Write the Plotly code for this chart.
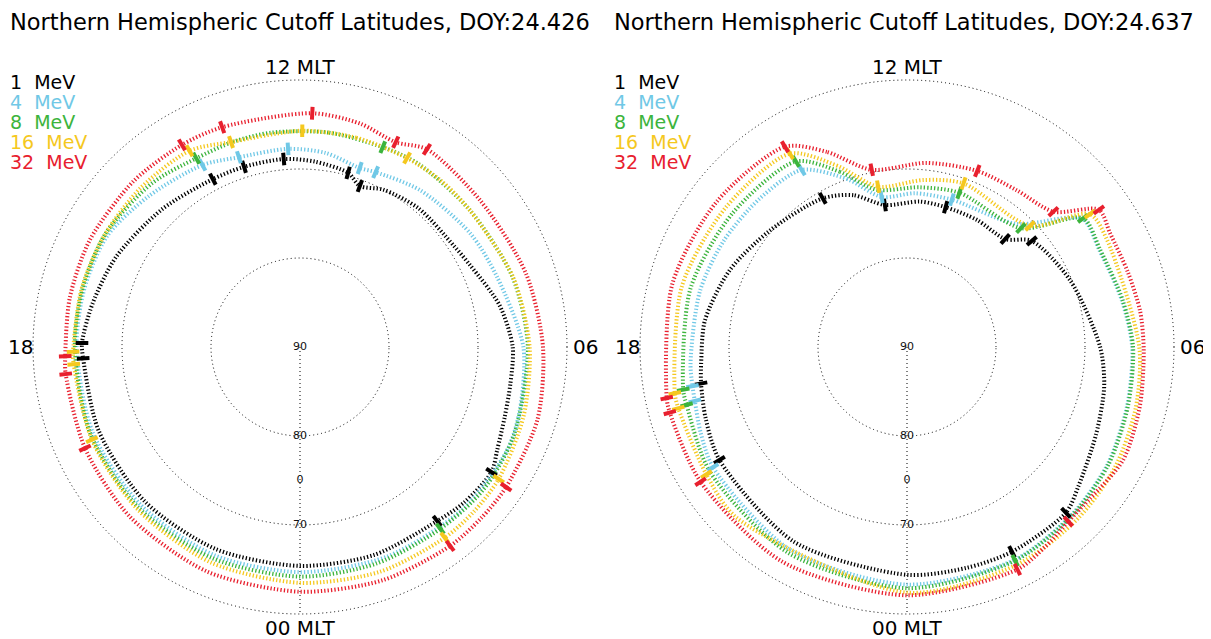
import plotly.graph_objects as go

W, H = 1211, 639

ENERGY_LABELS = ["1\u00a0\u00a0MeV", "4\u00a0\u00a0MeV", "8\u00a0\u00a0MeV", "16\u00a0\u00a0MeV", "32\u00a0\u00a0MeV"]
COLORS = ["#000000", "#70c8e6", "#3cb43c", "#f5c81e", "#e8202e"]
TITLES = ["Northern Hemispheric Cutoff Latitudes, DOY:24.426",
          "Northern Hemispheric Cutoff Latitudes, DOY:24.637"]
MLT_TICK_TEXT = ["12 MLT", "00 MLT", "18", "06"]
LAT_LABEL_VALUES = [90, 80, 75, 70]
LAT_LABEL_TEXT = ["90", "80", "0", "70"]
GRID_LATS = [80, 70, 60]

# ---------------- Left panel (DOY 24.426): curves (MLT, latitude) ----------------
L_BLACK_MLT = [10.97, 11.7, 12.33, 13.15, 13.83, 15.0, 16.25, 17.2, 17.93, 18.2, 19.5, 21.0, 22.5, 0.0, 1.3, 2.55, 3.1, 3.79, 4.16, 4.75, 5.33, 6.0, 6.79, 7.72, 8.21, 9.3, 10.14, 10.64]
L_BLACK_LAT = [69.7, 69.1, 68.8, 68.8, 68.75, 68.1, 67.0, 66.2, 65.5, 65.6, 65.5, 65.4, 65.4, 65.4, 65.2, 65.1, 64.6, 64.3, 65.0, 65.7, 66.0, 66.1, 67.1, 68.8, 69.3, 69.5, 70.0, 70.7]
L_BLUE_MLT = [10.44, 10.77, 11.5, 12.23, 13.19, 13.88, 15.0, 16.0, 17.0, 18.0, 19.5, 21.0, 22.5, 0.0, 1.5, 3.0, 4.23, 4.93, 6.0, 7.31, 8.25, 9.5]
L_BLUE_LAT = [68.6, 68.8, 68.0, 67.7, 67.6, 66.8, 66.0, 65.0, 64.9, 64.9, 64.8, 64.8, 64.7, 64.7, 64.5, 64.2, 64.0, 64.3, 64.9, 66.5, 67.0, 67.8]
L_GREEN_MLT = [10.5, 11.5, 12.5, 13.2, 13.92, 14.8, 16.0, 17.0, 18.0, 19.5, 21.0, 22.5, 0.0, 1.3, 2.51, 3.47, 4.5, 6.0, 7.2, 8.6, 9.8]
L_GREEN_LAT = [65.7, 65.7, 65.7, 65.75, 65.8, 65.2, 64.7, 64.7, 64.7, 64.5, 64.4, 64.3, 64.2, 64.2, 64.2, 63.9, 64.0, 64.4, 64.85, 65.5, 65.5]
L_YELLOW_MLT = [10.03, 11.0, 11.96, 13.24, 13.96, 15.0, 16.0, 17.0, 18.08, 18.29, 19.6, 21.0, 22.5, 0.0, 1.3, 2.48, 3.1, 3.76, 4.85, 6.0, 7.2, 8.59, 9.3]
L_YELLOW_LAT = [65.6, 65.65, 65.7, 65.7, 64.7, 64.7, 64.7, 64.6, 64.5, 64.5, 64.4, 64.2, 63.8, 63.5, 63.2, 63.1, 63.1, 63.2, 63.7, 64.2, 64.8, 65.5, 65.5]
L_RED_MLT = [9.82, 10.33, 11.0, 11.8, 13.3, 14.02, 15.0, 16.2, 17.2, 18.15, 18.44, 19.68, 21.0, 22.5, 0.0, 1.3, 2.47, 3.1, 3.72, 4.87, 6.0, 7.2, 8.6]
L_RED_LAT = [63.6, 64.6, 64.0, 63.7, 63.8, 63.7, 63.6, 63.5, 63.55, 63.6, 63.5, 63.3, 63.0, 62.7, 62.5, 62.2, 62.0, 62.0, 62.0, 62.1, 62.7, 63.3, 63.9]

# Left panel: highlighted points
L_BLACK_MK_MLT = [13.83, 13.15, 12.33, 10.97, 10.64, 17.93, 18.2, 3.79, 2.55]
L_BLACK_MK_LAT = [68.75, 68.8, 68.8, 69.7, 70.7, 65.5, 65.6, 64.3, 65.1]
L_BLUE_MK_MLT = [13.88, 13.19, 12.23, 10.77, 10.44]
L_BLUE_MK_LAT = [66.8, 67.6, 67.7, 68.8, 68.6]
L_GREEN_MK_MLT = [13.92, 10.5, 2.51]
L_GREEN_MK_LAT = [65.8, 65.7, 64.2]
L_YELLOW_MK_MLT = [13.96, 13.24, 11.96, 10.03, 3.76, 2.48, 19.6, 18.08, 18.29]
L_YELLOW_MK_LAT = [64.7, 65.7, 65.7, 65.6, 63.2, 63.1, 64.4, 64.5, 64.5]
L_RED_MK_MLT = [14.02, 13.3, 11.8, 10.33, 9.82, 3.72, 2.47, 19.68, 18.15, 18.44]
L_RED_MK_LAT = [63.7, 63.8, 63.7, 64.6, 63.6, 62.0, 62.0, 63.3, 63.6, 63.5]

# ---------------- Right panel (DOY 24.637) ----------------
R_BLACK_MLT = [12.59, 13.3, 13.97, 15.3, 16.43, 17.5, 18.3, 18.67, 19.3, 20.07, 22.0, 0.0, 1.0, 1.81, 2.92, 3.4, 4.35, 5.24, 6.0, 7.49, 8.69, 9.18, 10.08, 10.97, 11.66]
R_BLACK_LAT = [73.85, 71.9, 70.8, 69.8, 68.3, 67.1, 66.8, 66.5, 66.0, 65.4, 64.7, 64.4, 64.3, 64.15, 64.2, 65.2, 66.6, 67.4, 68.3, 70.2, 71.6, 73.6, 73.7, 73.7, 73.6]
R_BLUE_MLT = [12.64, 13.3, 14.05, 15.0, 16.0, 17.0, 18.3, 18.69, 18.95, 19.5, 20.12, 22.0, 0.0, 1.79, 3.0, 4.0, 5.0, 6.0, 6.82, 7.78, 8.41, 9.23, 10.87, 11.8]
R_BLUE_LAT = [72.9, 70.0, 66.85, 66.5, 66.2, 65.9, 65.6, 65.5, 65.4, 64.9, 64.35, 63.7, 63.3, 63.2, 63.6, 63.9, 64.4, 64.7, 65.3, 65.8, 65.6, 71.5, 72.7, 72.7]
R_GREEN_MLT = [12.73, 13.4, 14.06, 15.5, 17.0, 18.72, 18.98, 20.14, 22.0, 0.0, 1.79, 3.0, 4.0, 5.0, 6.0, 6.82, 7.78, 8.41, 9.08, 10.75, 11.7]
R_GREEN_LAT = [72.0, 68.9, 65.7, 65.3, 64.8, 64.4, 64.4, 63.8, 63.3, 62.9, 63.1, 63.5, 63.8, 64.3, 64.6, 65.2, 65.7, 65.5, 71.5, 71.7, 72.0]
R_YELLOW_MLT = [12.68, 13.4, 14.08, 15.5, 17.0, 18.75, 19.0, 20.16, 21.0, 0.0, 1.8, 3.0, 4.0, 5.0, 6.0, 7.88, 8.4, 8.97, 10.73, 11.63]
R_YELLOW_LAT = [71.7, 68.2, 64.6, 64.3, 63.8, 63.4, 63.4, 63.3, 62.9, 62.4, 62.6, 62.8, 63.0, 63.4, 63.9, 64.5, 64.6, 70.6, 70.55, 71.15]
R_RED_MLT = [12.75, 13.49, 14.09, 15.5, 17.0, 18.8, 19.03, 20.21, 22.0, 0.0, 1.76, 2.3, 2.85, 3.36, 4.16, 5.04, 5.95, 6.58, 7.25, 7.95, 8.37, 8.85, 9.67, 10.55, 11.6]
R_RED_LAT = [69.7, 66.3, 63.65, 63.1, 62.7, 62.4, 62.35, 62.3, 62.1, 62.1, 62.1, 62.7, 63.3, 63.3, 62.6, 63.0, 63.4, 63.5, 63.8, 63.85, 63.5, 67.6, 68.5, 68.7, 69.2]

R_BLACK_MK_MLT = [13.97, 12.59, 10.97, 9.18, 8.69, 18.67, 20.07, 2.92, 1.81]
R_BLACK_MK_LAT = [70.8, 73.85, 73.7, 73.6, 71.6, 66.5, 65.4, 64.2, 64.15]
R_BLUE_MK_MLT = [14.05, 12.64, 10.87, 18.69, 18.95, 20.12]
R_BLUE_MK_LAT = [66.85, 72.9, 72.7, 65.5, 65.4, 64.35]
R_GREEN_MK_MLT = [14.06, 10.75, 9.08, 8.41, 18.72, 18.98, 1.79]
R_GREEN_MK_LAT = [65.7, 71.7, 71.5, 65.5, 64.4, 64.4, 63.1]
R_YELLOW_MK_MLT = [14.08, 12.68, 10.73, 8.97, 8.4, 18.75, 19.0, 20.16]
R_YELLOW_MK_LAT = [64.6, 71.7, 70.55, 70.6, 64.6, 63.4, 63.4, 63.3]
R_RED_MK_MLT = [14.09, 12.75, 10.55, 8.85, 8.37, 18.8, 19.03, 20.21, 1.76, 2.85]
R_RED_MK_LAT = [63.65, 69.7, 68.7, 67.6, 63.5, 62.4, 62.35, 62.3, 62.1, 63.3]

PANELS = [
    dict(curves=[(L_BLACK_MLT, L_BLACK_LAT), (L_BLUE_MLT, L_BLUE_LAT), (L_GREEN_MLT, L_GREEN_LAT),
                 (L_YELLOW_MLT, L_YELLOW_LAT), (L_RED_MLT, L_RED_LAT)],
         marks=[(L_BLACK_MK_MLT, L_BLACK_MK_LAT), (L_BLUE_MK_MLT, L_BLUE_MK_LAT), (L_GREEN_MK_MLT, L_GREEN_MK_LAT),
                (L_YELLOW_MK_MLT, L_YELLOW_MK_LAT), (L_RED_MK_MLT, L_RED_MK_LAT)]),
    dict(curves=[(R_BLACK_MLT, R_BLACK_LAT), (R_BLUE_MLT, R_BLUE_LAT), (R_GREEN_MLT, R_GREEN_LAT),
                 (R_YELLOW_MLT, R_YELLOW_LAT), (R_RED_MLT, R_RED_LAT)],
         marks=[(R_BLACK_MK_MLT, R_BLACK_MK_LAT), (R_BLUE_MK_MLT, R_BLUE_MK_LAT), (R_GREEN_MK_MLT, R_GREEN_MK_LAT),
                (R_YELLOW_MK_MLT, R_YELLOW_MK_LAT), (R_RED_MK_MLT, R_RED_MK_LAT)]),
]

# layout geometry (page pixels); the page body adds an 8px margin
PAGE_OFFSET = 8
CENTERS_X = [300, 907]
CENTER_Y = 347
RADIUS = 267                 # radius of the 60 deg circle in pixels
OUTER = 90 - min(GRID_LATS)  # 30 deg colatitude
RANGE_MAX = OUTER + 0.8
DOMAIN_R = RADIUS * RANGE_MAX / OUTER
TEXT_X = [8, 612]
FONT = "DejaVu Sans"
DOT = "1px,3px"

def px(x):
    return (x - PAGE_OFFSET) / W

def py(y):
    return 1 - (y - PAGE_OFFSET) / H

fig = go.Figure()

for i, panel in enumerate(PANELS):
    sp = "polar" if i == 0 else "polar2"
    fig.add_trace(go.Scatterpolar(r=[0, OUTER], theta=[0, 0], mode="lines", subplot=sp,
                                  line=dict(color="black", width=1, dash=DOT),
                                  hoverinfo="skip", showlegend=False))
    for (mlt, lat), color in zip(panel["curves"], COLORS):
        th = [m * 15 for m in mlt] + [mlt[0] * 15]
        rr = [90 - v for v in lat] + [90 - lat[0]]
        fig.add_trace(go.Scatterpolar(r=rr, theta=th, mode="lines", subplot=sp,
                                      line=dict(color=color, width=4, dash="1.3px,2.1px",
                                                shape="spline", smoothing=0.8),
                                      hoverinfo="skip", showlegend=False))
    for (mlt, lat), color in zip(panel["marks"], COLORS):
        fig.add_trace(go.Scatterpolar(r=[90 - v for v in lat], theta=[m * 15 for m in mlt],
                                      mode="markers", subplot=sp,
                                      marker=dict(symbol="line-ns", size=9, color=color,
                                                  angle=[-15 * m for m in mlt],
                                                  line=dict(color=color, width=4)),
                                      hoverinfo="skip", showlegend=False))
    fig.add_trace(go.Scatterpolar(r=[90 - v for v in LAT_LABEL_VALUES], theta=[0] * len(LAT_LABEL_VALUES),
                                  mode="text", text=LAT_LABEL_TEXT, subplot=sp,
                                  textposition="middle center",
                                  textfont=dict(family=FONT, size=11, color="#111111"),
                                  hoverinfo="skip", showlegend=False))

polar_common = dict(
    bgcolor="white",
    radialaxis=dict(range=[0, RANGE_MAX], tickvals=[90 - g for g in GRID_LATS], showticklabels=False,
                    ticks="", showline=False, showgrid=True, gridcolor="black", griddash=DOT, gridwidth=1),
    angularaxis=dict(rotation=-90, direction="counterclockwise", showgrid=False,
                     showticklabels=False, ticks="", showline=False),
)

annotations = []
for i, cx in enumerate(CENTERS_X):
    annotations.append(dict(x=px(TEXT_X[i]), y=py(22), text=TITLES[i], showarrow=False,
                            xanchor="left", yanchor="middle", font=dict(family=FONT, size=22.5, color="black")))
    for k, (lab, col) in enumerate(zip(ENERGY_LABELS, COLORS)):
        annotations.append(dict(x=px(TEXT_X[i]), y=py(82 + 20 * k), text=lab, showarrow=False,
                                xanchor="left", yanchor="middle", font=dict(family=FONT, size=19, color=col)))
    pos = [(cx, CENTER_Y - RADIUS - 13), (cx, CENTER_Y + RADIUS + 14),
           (cx - RADIUS - 13, CENTER_Y), (cx + RADIUS + 18, CENTER_Y)]
    for txt, (x, y) in zip(MLT_TICK_TEXT, pos):
        annotations.append(dict(x=px(x), y=py(y), text=txt, showarrow=False,
                                xanchor="center", yanchor="middle", font=dict(family=FONT, size=20, color="black")))

fig.update_layout(
    width=W, height=H, autosize=False,
    margin=dict(l=0, r=0, t=0, b=0),
    paper_bgcolor="white", plot_bgcolor="white",
    polar=dict(domain=dict(x=[px(CENTERS_X[0] - DOMAIN_R), px(CENTERS_X[0] + DOMAIN_R)],
                           y=[py(CENTER_Y + DOMAIN_R), py(CENTER_Y - DOMAIN_R)]), **polar_common),
    polar2=dict(domain=dict(x=[px(CENTERS_X[1] - DOMAIN_R), px(CENTERS_X[1] + DOMAIN_R)],
                            y=[py(CENTER_Y + DOMAIN_R), py(CENTER_Y - DOMAIN_R)]), **polar_common),
    annotations=annotations,
    showlegend=False,
)

fig.write_html("out.html")
